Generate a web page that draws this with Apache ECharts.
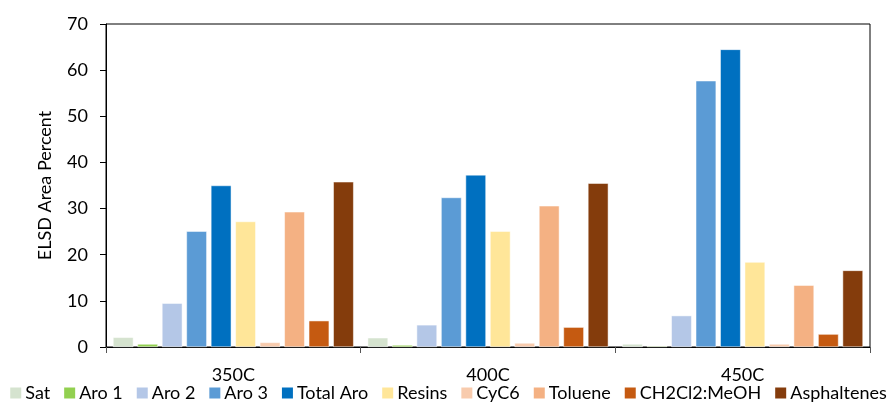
<!DOCTYPE html>
<html>
<head>
<meta charset="utf-8">
<script src="https://cdn.jsdelivr.net/npm/echarts@6/dist/echarts.min.js"></script>
<style>html,body{margin:0;padding:0;background:#fff}#c{width:895px;height:407px}</style>
</head>
<body>
<div id="c"></div>
<script>
const categories = ['350C', '400C', '450C'];
const seriesNames = ['Sat', 'Aro 1', 'Aro 2', 'Aro 3', 'Total Aro', 'Resins', 'CyC6', 'Toluene', 'CH2Cl2:MeOH', 'Asphaltenes'];
const sat = [2.1, 2.0, 0.65];
const aro1 = [0.65, 0.43, 0.2];
const aro2 = [9.5, 4.8, 6.8];
const aro3 = [25.1, 32.4, 57.7];
const totalAro = [35.0, 37.3, 64.5];
const resins = [27.2, 25.1, 18.4];
const cyc6 = [1.0, 0.87, 0.65];
const toluene = [29.3, 30.6, 13.4];
const ch2cl2 = [5.7, 4.3, 2.8];
const asphaltenes = [35.8, 35.5, 16.6];
const yTicks = [0, 10, 20, 30, 40, 50, 60, 70];

const values = [sat, aro1, aro2, aro3, totalAro, resins, cyc6, toluene, ch2cl2, asphaltenes];
const colors = ['#d5e3cf', '#92d050', '#b4c7e7', '#5b9bd5', '#0070c0', '#ffe699', '#f8cbad', '#f4b183', '#c55a11', '#843c0c'];
const font = 'Lato, sans-serif';

const chart = echarts.init(document.getElementById('c'), null, {renderer: 'canvas'});
chart.setOption({
  animation: false,
  color: colors,
  grid: {left: 106, right: 25, top: 24, bottom: 60, show: true, borderColor: '#000', borderWidth: 1, backgroundColor: 'transparent'},
  legend: {
    bottom: 0, left: 'center', itemWidth: 13, itemHeight: 13, itemGap: 12,
    icon: 'rect',
    textStyle: {fontFamily: font, fontSize: 18, color: '#000', padding: [0, 0, 0, -2]},
    data: seriesNames
  },
  xAxis: {
    type: 'category', data: categories,
    axisLine: {lineStyle: {color: '#000', width: 1}},
    axisTick: {show: true, length: 6, lineStyle: {color: '#555'}},
    axisLabel: {fontFamily: font, fontSize: 18, color: '#000', margin: 19}
  },
  yAxis: {
    type: 'value', min: yTicks[0], max: yTicks[yTicks.length - 1], interval: 10,
    name: 'ELSD Area Percent', nameLocation: 'middle', nameGap: 52,
    nameTextStyle: {fontFamily: font, fontSize: 18, color: '#000'},
    axisLine: {show: true, lineStyle: {color: '#000', width: 1}},
    axisTick: {show: true, length: 6, lineStyle: {color: '#000'}},
    axisLabel: {fontFamily: font, fontSize: 18, color: '#000', margin: 18},
    splitLine: {show: false}
  },
  series: seriesNames.map((n, i) => ({
    name: n, type: 'bar', data: values[i],
    barGap: '20%', barCategoryGap: '5.5%',
    itemStyle: {color: colors[i], borderColor: '#fff', borderWidth: 0.5}
  }))
});
</script>
</body>
</html>
